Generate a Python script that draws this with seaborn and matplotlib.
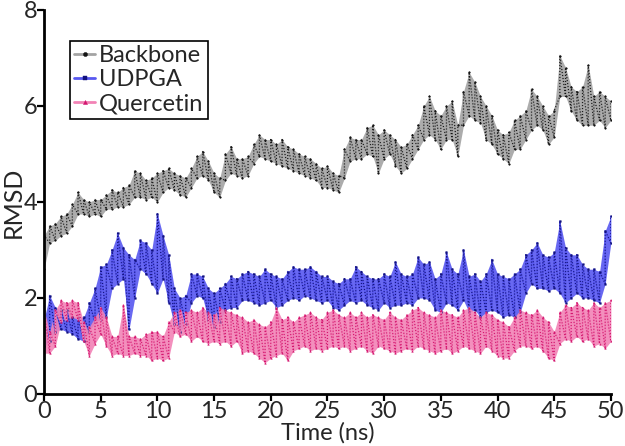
import numpy as np
import pandas as pd
import matplotlib
matplotlib.use("Agg")
import matplotlib.pyplot as plt
import seaborn as sns

time = [i * 0.5 for i in range(101)]

backbone_lo = [2.6, 3.15, 3.2, 3.3, 3.35, 3.5, 3.75, 3.75, 3.7, 3.75,
               3.7, 3.85, 3.85, 3.9, 3.9, 3.95, 4.1, 4.1, 4.05, 4.1,
               4.0, 4.2, 4.3, 4.25, 4.15, 4.1, 4.3, 4.5, 4.55, 4.45,
               4.2, 4.1, 4.45, 4.6, 4.55, 4.5, 4.55, 4.8, 4.95, 4.9,
               4.85, 4.8, 4.75, 4.7, 4.65, 4.6, 4.55, 4.5, 4.45, 4.3,
               4.3, 4.25, 4.2, 4.5, 4.85, 4.9, 4.9, 5.0, 4.95, 4.6,
               4.9, 5.0, 4.75, 4.6, 4.7, 4.9, 5.1, 5.3, 5.4, 5.3,
               5.1, 5.3, 5.3, 4.95, 5.6, 5.8, 5.7, 5.65, 5.3, 5.2,
               5.0, 4.9, 4.8, 5.1, 5.1, 5.3, 5.5, 5.6, 5.5, 5.2,
               5.35, 6.2, 6.2, 5.9, 5.7, 5.6, 5.6, 5.6, 5.7, 5.55,
               5.7]
backbone_hi = [3.3, 3.5, 3.55, 3.7, 3.75, 3.95, 4.2, 4.05, 4.0, 4.05,
               4.05, 4.15, 4.25, 4.2, 4.3, 4.35, 4.65, 4.6, 4.45, 4.5,
               4.6, 4.65, 4.7, 4.6, 4.55, 4.5, 4.7, 4.95, 5.05, 4.85,
               4.6, 4.5, 5.0, 5.15, 4.9, 4.9, 4.95, 5.2, 5.4, 5.3,
               5.3, 5.2, 5.3, 5.15, 5.1, 5.0, 4.95, 4.9, 4.8, 4.7,
               4.75, 4.6, 4.55, 5.1, 5.35, 5.3, 5.3, 5.55, 5.6, 5.4,
               5.5, 5.4, 5.3, 5.15, 5.2, 5.4, 5.6, 6.0, 6.2, 5.9,
               5.8, 6.0, 6.1, 5.6, 6.3, 6.7, 6.5, 6.2, 6.0, 5.8,
               5.5, 5.4, 5.45, 5.7, 5.8, 5.9, 6.35, 6.2, 6.0, 5.8,
               5.9, 7.05, 6.8, 6.4, 6.3, 6.4, 6.85, 6.2, 6.3, 6.2,
               6.1]

udpga_lo = [1.0, 1.1, 1.3, 1.35, 1.3, 1.25, 1.15, 1.1, 1.3, 1.5,
            1.55, 1.6, 2.2, 2.3, 2.4, 1.35, 2.0, 2.6, 2.5, 2.3,
            2.1, 2.4, 1.9, 1.45, 1.3, 1.45, 1.9, 2.05, 2.0, 1.55,
            1.4, 1.5, 1.75, 1.8, 1.8, 1.95, 1.95, 1.9, 1.85, 1.9,
            1.95, 1.8, 1.85, 1.95, 2.0, 1.95, 2.05, 2.0, 1.95, 1.9,
            1.95, 1.8, 1.75, 1.85, 1.95, 1.9, 1.95, 1.85, 1.8, 1.75,
            1.9, 1.8, 1.85, 1.85, 1.9, 1.85, 2.0, 2.0, 1.95, 1.75,
            1.7, 1.9, 1.85, 1.75, 1.95, 1.7, 1.75, 1.6, 1.7, 1.75,
            1.7, 1.6, 1.65, 1.6, 1.7, 2.1, 2.3, 2.2, 2.2, 2.15,
            2.2, 2.1, 1.9, 2.0, 2.1, 2.0, 2.0, 1.95, 1.9, 2.3,
            3.15]
udpga_hi = [1.55, 2.05, 1.8, 1.75, 1.75, 1.6, 1.6, 1.6, 1.9, 2.2,
            2.65, 2.7, 3.0, 3.35, 3.05, 2.9, 2.8, 3.2, 3.15, 3.0,
            3.75, 3.3, 2.9, 2.2, 2.0, 2.05, 2.5, 2.5, 2.45, 2.2,
            2.1, 2.2, 2.3, 2.45, 2.4, 2.5, 2.55, 2.5, 2.45, 2.6,
            2.5, 2.45, 2.4, 2.55, 2.65, 2.6, 2.6, 2.65, 2.55, 2.45,
            2.45, 2.35, 2.3, 2.4, 2.4, 2.65, 2.55, 2.45, 2.4, 2.4,
            2.5, 2.45, 2.75, 2.5, 2.45, 2.5, 2.85, 2.7, 2.75, 2.4,
            2.5, 2.95, 2.6, 2.5, 3.0, 2.45, 2.5, 2.35, 2.5, 2.8,
            2.5, 2.45, 2.4, 2.5, 2.6, 2.9, 3.0, 3.15, 2.9, 2.85,
            2.95, 3.6, 3.05, 2.9, 2.9, 2.7, 2.6, 2.6, 2.55, 3.4,
            3.7]

quercetin_lo = [0.85, 0.85, 1.0, 1.5, 1.55, 1.6, 1.55, 1.1, 0.8, 1.05,
                1.25, 1.0, 0.8, 0.85, 0.8, 0.8, 0.85, 0.8, 0.8, 0.7,
                0.75, 0.7, 0.75, 1.3, 1.2, 1.25, 1.1, 1.2, 1.1, 1.05,
                1.1, 1.05, 1.1, 1.0, 1.1, 0.85, 0.9, 0.85, 0.75, 0.65,
                0.75, 0.8, 0.85, 0.7, 0.9, 0.95, 1.0, 0.9, 0.95, 0.9,
                0.95, 1.0, 0.95, 1.0, 0.9, 0.95, 1.0, 0.9, 0.85, 1.0,
                0.95, 0.9, 0.85, 0.9, 0.95, 0.9, 1.0, 0.95, 0.9, 0.85,
                0.9, 0.95, 0.85, 0.9, 1.0, 0.95, 0.9, 0.85, 1.0, 0.9,
                0.8, 0.75, 0.75, 0.9, 1.0, 1.0, 0.95, 1.0, 0.9, 0.75,
                0.7, 1.05, 1.15, 1.1, 1.2, 1.1, 1.15, 1.0, 1.05, 0.95,
                1.1]
quercetin_hi = [1.75, 1.3, 1.75, 1.95, 1.9, 1.95, 1.9, 1.5, 1.4, 1.6,
                1.8, 1.6, 1.2, 1.2, 1.85, 1.2, 1.2, 1.15, 1.25, 1.3,
                1.3, 1.2, 1.5, 1.7, 1.75, 1.7, 1.75, 1.7, 1.8, 1.7,
                1.65, 1.8, 1.75, 1.7, 1.65, 1.6, 1.5, 1.55, 1.45, 1.4,
                1.5, 1.8, 1.55, 1.6, 1.5, 1.6, 1.65, 1.7, 1.6, 1.55,
                1.7, 1.75, 1.65, 1.6, 1.7, 1.6, 1.7, 1.6, 1.65, 1.6,
                1.55, 1.7, 1.6, 1.55, 1.65, 1.75, 1.8, 1.7, 1.65, 1.6,
                1.75, 1.7, 1.65, 1.6, 1.75, 1.8, 1.7, 1.6, 1.7, 1.65,
                1.55, 1.5, 1.4, 1.6, 1.75, 1.7, 1.65, 1.75, 1.6, 1.5,
                1.3, 1.7, 1.85, 1.8, 1.9, 1.8, 1.75, 1.9, 1.8, 1.9,
                1.95]

series_names = ["Backbone", "UDPGA", "Quercetin"]
line_colors = ["#a3a3a3", "#5858f0", "#f283b6"]
dot_colors = ["#141414", "#12127e", "#d3156e"]
dot_markers = ["o", "s", "^"]


def trace(lo, hi):
    # walk low -> high at every sample so the trace covers the band
    rows = []
    for t, a, b in zip(time, lo, hi):
        rows.append((t, a))
        rows.append((t, b))
    return pd.DataFrame(rows, columns=["time", "rmsd"])


sns.set_theme(style="ticks")
plt.rcParams["font.family"] = ["Lato", "DejaVu Sans"]

fig = plt.figure(figsize=(6.25, 4.46), dpi=100)
ax = fig.add_axes([0.0704, 0.1166, 0.907, 0.861])

bands = [(backbone_lo, backbone_hi), (udpga_lo, udpga_hi), (quercetin_lo, quercetin_hi)]
for name, (lo, hi), lc, dc, mk in zip(series_names, bands, line_colors, dot_colors, dot_markers):
    ax.fill_between(time, lo, hi, color=lc, alpha=0.9, linewidth=0)
    df = trace(lo, hi)
    # light trace carries the legend entry
    sns.lineplot(data=df, x="time", y="rmsd", ax=ax, estimator=None, sort=False,
                 color=lc, linewidth=1.2, marker=mk, markersize=1.2,
                 markerfacecolor=dc, markeredgecolor=dc, markeredgewidth=0.3,
                 label=name)
    # dark dotted overlay gives the speckled look
    sns.lineplot(data=df, x="time", y="rmsd", ax=ax, estimator=None, sort=False,
                 color=dc, linewidth=0.9, linestyle=(0, (0.8, 1.6)), legend=False)

ax.set_xlim(0, 50)
ax.set_ylim(0, 8)
ax.set_xticks(range(0, 51, 5))
ax.set_yticks([0, 2, 4, 6, 8])
ax.set_xlabel("Time (ns)", fontsize=17, labelpad=0)
ax.set_ylabel("RMSD", fontsize=18, labelpad=-1)
ax.tick_params(axis="both", labelsize=17, direction="out", length=5, width=1.6,
               color="black", pad=0)
for side in ["left", "bottom"]:
    ax.spines[side].set_linewidth(2)
    ax.spines[side].set_color("black")
sns.despine(ax=ax)

leg = ax.legend(loc="upper left", bbox_to_anchor=(0.045, 0.92), fontsize=17,
                frameon=True, fancybox=False, edgecolor="black", framealpha=1,
                handlelength=0.9, handletextpad=0.15, borderpad=0.2,
                labelspacing=0.12, borderaxespad=0)
leg.get_frame().set_linewidth(1.2)
for h in leg.legend_handles:
    h.set_linewidth(2.0)
    h.set_markersize(3)

fig.savefig("out.png", dpi=100)
